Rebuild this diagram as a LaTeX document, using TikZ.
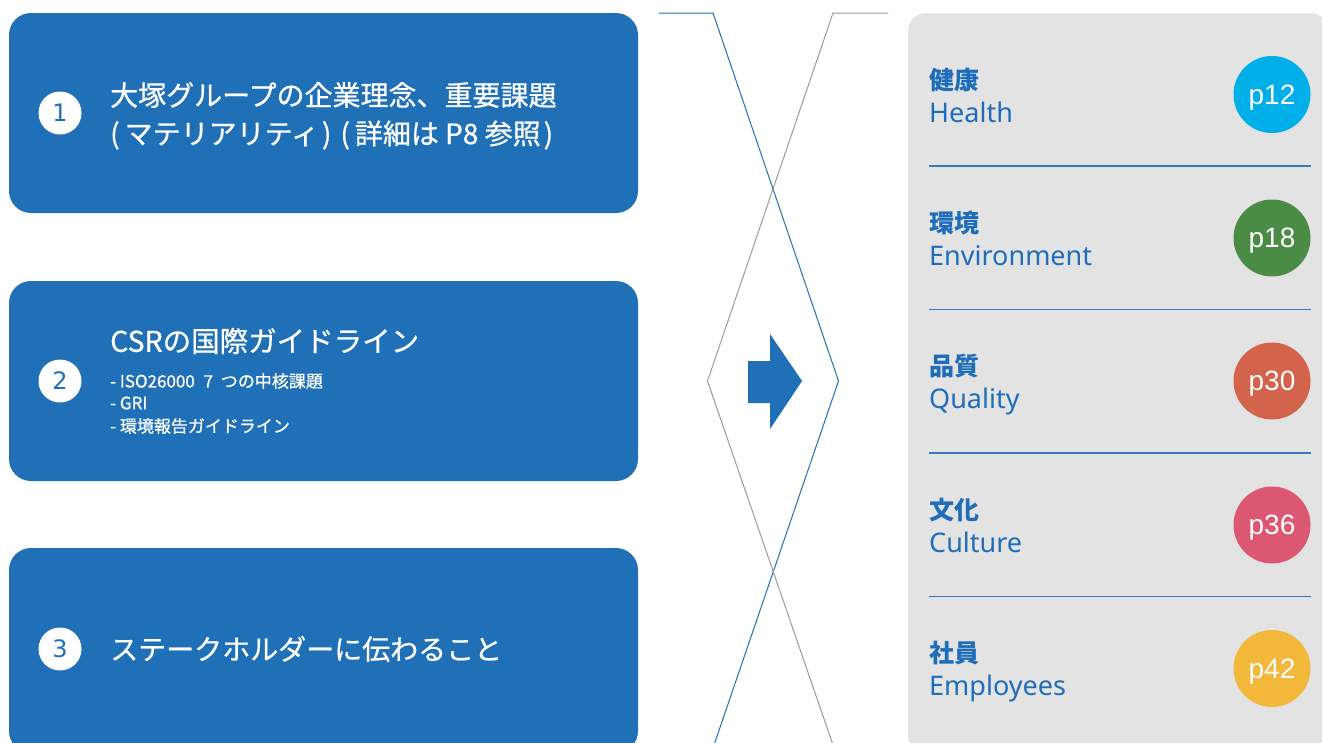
\documentclass[tikz,border=0pt]{standalone}
\usepackage{fontspec}
\setmainfont{Noto Sans CJK JP}
\newfontfamily\boxfont[FakeBold=0.7]{Noto Sans CJK JP}
\newfontfamily\enfont{Noto Sans}
\newfontfamily\pfont{Liberation Sans}
\newfontfamily\numfont{DejaVu Sans}
\definecolor{boxblue}{HTML}{2070B8}
\definecolor{txtblue}{HTML}{1F6DB8}
\definecolor{panelgray}{HTML}{E3E3E3}
\definecolor{divblue}{HTML}{3A78BA}
\definecolor{linegray}{HTML}{9A9A9A}
\definecolor{cA}{HTML}{00AEE8}
\definecolor{cB}{HTML}{4A8C45}
\definecolor{cC}{HTML}{D3634A}
\definecolor{cD}{HTML}{DC5872}
\definecolor{cE}{HTML}{F3B73C}
\begin{document}
\begin{tikzpicture}[x=1pt,y=-1pt,
  bluebox/.style={fill=boxblue, draw=none, rounded corners=22pt, minimum width=629pt, minimum height=200pt, inner sep=0pt},
  numcirc/.style={circle, fill=white, draw=none, minimum size=43pt, inner sep=0pt, text=boxblue, font=\numfont\fontsize{24}{27}\selectfont},
  boxtitle/.style={anchor=west, inner sep=0pt, text=white, font=\boxfont\fontsize{28}{34}\selectfont},
  boxsub/.style={anchor=west, inner sep=0pt, text=white, font=\boxfont\fontsize{17}{20}\selectfont},
  jplabel/.style={anchor=base west, inner sep=0pt, text=txtblue, font=\bfseries\fontsize{25}{30}\selectfont},
  enlabel/.style={anchor=base west, inner sep=0pt, text=txtblue, font=\enfont\fontsize{27}{32}\selectfont},
  pcirc/.style={circle, draw=none, minimum size=77pt, inner sep=0pt},
  ptext/.style={inner sep=0pt, text=white, font=\pfont\fontsize{28}{32}\selectfont},
  divider/.style={draw=divblue, line width=1.3pt}
]
\useasboundingbox (0,0) rectangle (1322,742);
\clip (0,0) rectangle (1322,742);

% left boxes
\node[bluebox] (b1) at (323.5,113) {};
\node[bluebox] (b2) at (323.5,381) {};
\node[bluebox, minimum height=205pt] (b3) at (323.5,650.5) {};

\node[numcirc] (n1) at (60,113) {1};
\node[numcirc] (n2) at (60,381) {2};
\node[numcirc] (n3) at (60,649) {3};

\node[boxtitle] (t1a) at (110,95) {大塚グループの企業理念、重要課題};
\node[boxtitle] (t1b) at (110,135) {(\hspace{5pt}マテリアリティ\hspace{3pt})\hspace{9pt}(\hspace{5pt}詳細は P8 参照\hspace{3pt})};

\node[boxtitle, font=\boxfont\fontsize{28.5}{34}\selectfont] (t2a) at (110,341) {CSRの国際ガイドライン};
\node[boxsub] (t2b) at (110,381) {- ISO26000\hspace{5pt} 7\hspace{4pt} つの中核課題};
\node[boxsub] (t2c) at (110,403) {- GRI};
\node[boxsub] (t2d) at (110,426) {- 環境報告ガイドライン};

\node[boxtitle] (t3a) at (110,649) {ステークホルダーに伝わること};

% centre lines
\coordinate (bl0) at (659,13);
\coordinate (bl1) at (713,13);
\coordinate (bl2) at (838.5,381);
\coordinate (bl3) at (714,745);
\coordinate (gl0) at (888,13);
\coordinate (gl1) at (833,13);
\coordinate (gl2) at (707.5,381);
\coordinate (gl3) at (833,745);
\draw[boxblue, line width=1pt] (bl0) -- (bl1) -- (bl2) -- (bl3);
\draw[linegray, line width=1pt] (gl0) -- (gl1) -- (gl2) -- (gl3);

% arrow
\fill[boxblue] (748,361) -- (770,361) -- (770,334) -- (802,381) -- (770,429) -- (770,403) -- (748,403) -- cycle;

% right panel
\node[fill=panelgray, draw=none, rounded corners=18pt, minimum width=420pt, minimum height=740pt, inner sep=0pt] (panel) at (1118,383) {};

\draw[divider] (929,166) -- (1311,166);
\draw[divider] (929,309.5) -- (1311,309.5);
\draw[divider] (929,453) -- (1311,453);
\draw[divider] (929,596.5) -- (1311,596.5);

\node[jplabel] (j1) at (929,89) {健康};
\node[enlabel] (e1) at (929,122) {Health};
\node[pcirc, fill=cA] (p1) at (1272,94.5) {};
\node[ptext] (q1) at ([yshift=-3pt]p1.center) {p12};

\node[jplabel] (j2) at (929,232.5) {環境};
\node[enlabel] (e2) at (929,265.5) {Environment};
\node[pcirc, fill=cB] (p2) at (1272,238) {};
\node[ptext] (q2) at ([yshift=-3pt]p2.center) {p18};

\node[jplabel] (j3) at (929,375.5) {品質};
\node[enlabel] (e3) at (929,408.5) {Quality};
\node[pcirc, fill=cC] (p3) at (1272,381) {};
\node[ptext] (q3) at ([yshift=-3pt]p3.center) {p30};

\node[jplabel] (j4) at (929,519) {文化};
\node[enlabel] (e4) at (929,552) {Culture};
\node[pcirc, fill=cD] (p4) at (1272,525) {};
\node[ptext] (q4) at ([yshift=-3pt]p4.center) {p36};

\node[jplabel] (j5) at (929,662.5) {社員};
\node[enlabel] (e5) at (929,695.5) {Employees};
\node[pcirc, fill=cE] (p5) at (1272,668.5) {};
\node[ptext] (q5) at ([yshift=-3pt]p5.center) {p42};
\end{tikzpicture}
\end{document}
